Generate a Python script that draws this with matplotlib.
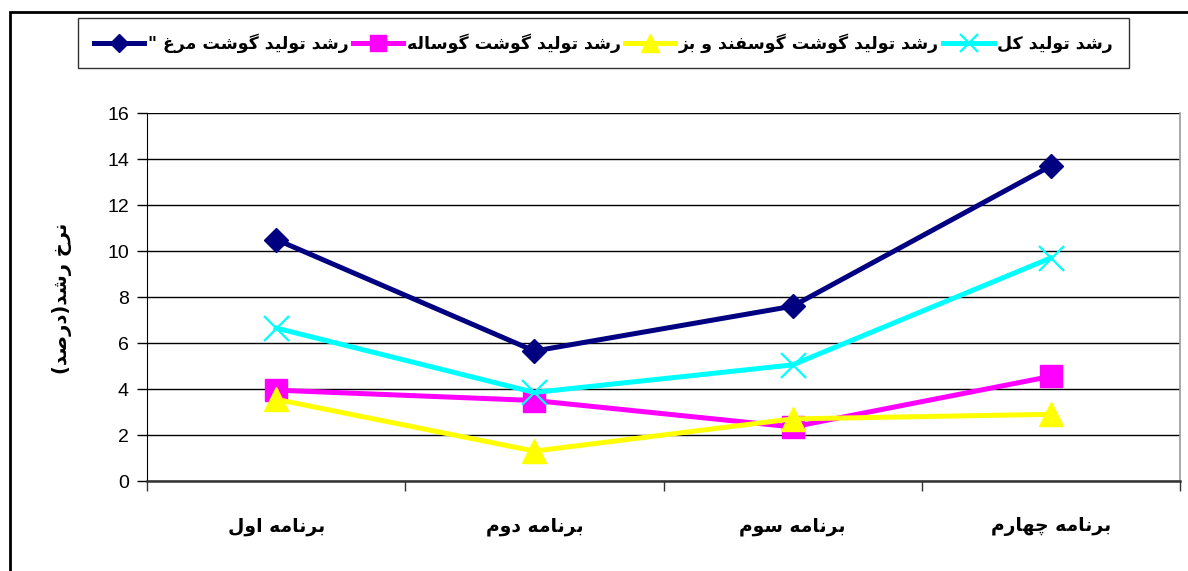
import matplotlib
matplotlib.use("Agg")
import matplotlib.pyplot as plt
from matplotlib.patches import Rectangle
from matplotlib.ticker import FixedLocator

# ---------------- data ----------------
categories = ["برنامه اول", "برنامه دوم", "برنامه سوم", "برنامه چهارم"]
series_names = [
    'رشد تولید گوشت مرغ "',
    "رشد تولید گوشت گوساله",
    "رشد تولید گوشت گوسفند و بز",
    "رشد تولید کل",
]
chicken = [10.5, 5.65, 7.6, 13.7]
veal = [3.95, 3.5, 2.35, 4.55]
sheep_goat = [3.55, 1.3, 2.7, 2.9]
total = [6.65, 3.85, 5.05, 9.7]
y_label = "نرخ رشد(درصد)"
y_ticks = [0, 2, 4, 6, 8, 10, 12, 14, 16]

# ---------------- simple Arabic/Persian shaping ----------------
DUAL = {
    "ب": ("\uFE8F", "\uFE90", "\uFE91", "\uFE92"),
    "ت": ("\uFE95", "\uFE96", "\uFE97", "\uFE98"),
    "خ": ("\uFEA5", "\uFEA6", "\uFEA7", "\uFEA8"),
    "س": ("\uFEB1", "\uFEB2", "\uFEB3", "\uFEB4"),
    "ش": ("\uFEB5", "\uFEB6", "\uFEB7", "\uFEB8"),
    "ص": ("\uFEB9", "\uFEBA", "\uFEBB", "\uFEBC"),
    "غ": ("\uFECD", "\uFECE", "\uFECF", "\uFED0"),
    "ف": ("\uFED1", "\uFED2", "\uFED3", "\uFED4"),
    "ل": ("\uFEDD", "\uFEDE", "\uFEDF", "\uFEE0"),
    "م": ("\uFEE1", "\uFEE2", "\uFEE3", "\uFEE4"),
    "ن": ("\uFEE5", "\uFEE6", "\uFEE7", "\uFEE8"),
    "ه": ("\uFEE9", "\uFEEA", "\uFEEB", "\uFEEC"),
    "ی": ("\uFBFC", "\uFBFD", "\uFBFE", "\uFBFF"),
    "ک": ("\uFB8E", "\uFB8F", "\uFB90", "\uFB91"),
    "گ": ("\uFB92", "\uFB93", "\uFB94", "\uFB95"),
    "چ": ("\uFB7A", "\uFB7B", "\uFB7C", "\uFB7D"),
}
RIGHT = {
    "ا": ("\uFE8D", "\uFE8E"),
    "د": ("\uFEA9", "\uFEAA"),
    "ر": ("\uFEAD", "\uFEAE"),
    "ز": ("\uFEAF", "\uFEB0"),
    "و": ("\uFEED", "\uFEEE"),
}
MIRROR = {"(": ")", ")": "("}


def shape(text):
    out = []
    n = len(text)
    for i, ch in enumerate(text):
        if ch in DUAL or ch in RIGHT:
            prev = text[i - 1] if i > 0 else ""
            nxt = text[i + 1] if i < n - 1 else ""
            jp = prev in DUAL
            jn = ch in DUAL and (nxt in DUAL or nxt in RIGHT)
            if ch in DUAL:
                iso, fin, ini, med = DUAL[ch]
                if jp and jn:
                    out.append(med)
                elif jp:
                    out.append(fin)
                elif jn:
                    out.append(ini)
                else:
                    out.append(iso)
            else:
                iso, fin = RIGHT[ch]
                out.append(fin if jp else iso)
        else:
            out.append(ch)
    return "".join(MIRROR.get(c, c) for c in reversed(out))


# ---------------- figure ----------------
fig = plt.figure(figsize=(11.88, 5.71), dpi=100)
ax = fig.add_axes([147 / 1188, 1 - 481 / 571, (1180 - 147) / 1188, (481 - 113) / 571])

x = list(range(len(categories)))
styles = [
    (chicken, "#000080", "D", 12.5, {}),
    (veal, "#FF00FF", "s", 16, {}),
    (sheep_goat, "#FFFF00", "^", 17, {}),
    (total, "#00FFFF", "x", 18, {"markeredgewidth": 1.6}),
]
handles = []
for (vals, col, mk, ms, extra), name in zip(styles, series_names):
    h, = ax.plot(x, vals, color=col, lw=3.6, marker=mk, markersize=ms,
                 markerfacecolor=col, markeredgecolor=col,
                 label=shape(name), solid_joinstyle="miter", zorder=3, **extra)
    handles.append(h)

ax.set_xlim(-0.5, len(categories) - 0.5)
ax.set_ylim(0, 16)
ax.set_yticks(y_ticks)
ax.set_yticklabels([str(v) for v in y_ticks], fontsize=14, family="Liberation Sans")
ax.yaxis.grid(True, color="black", lw=1.0)
ax.set_axisbelow(True)
ax.tick_params(axis="y", direction="out", length=7, width=1, pad=6)

ax.set_xticks(x)
ax.set_xticklabels([shape(c) for c in categories], fontsize=13.5,
                   fontweight="bold", family="DejaVu Sans")
ax.tick_params(axis="x", which="major", length=0, pad=26)
ax.xaxis.set_minor_locator(FixedLocator([i - 0.5 for i in range(len(categories) + 1)]))
ax.tick_params(axis="x", which="minor", direction="out", length=7, width=1, color="#333333")

ax.spines["top"].set_visible(False)
ax.spines["right"].set_color("#999999")
ax.spines["right"].set_linewidth(1.2)
ax.spines["left"].set_color("black")
ax.spines["bottom"].set_color("#333333")
ax.spines["bottom"].set_linewidth(1.8)

fig.text(62 / 1188, 1 - 298 / 571, shape(y_label), rotation=90, fontsize=14,
         fontweight="bold", ha="center", va="center", family="DejaVu Sans")

leg = fig.legend(handles=handles, loc="center", bbox_to_anchor=(0.508, 1 - 43 / 571),
                 ncol=4, frameon=True, fancybox=False, edgecolor="black",
                 prop={"size": 12.5, "weight": "bold", "family": "DejaVu Sans"},
                 handlelength=2.9, handletextpad=0.2, columnspacing=0.25,
                 borderpad=0.9, borderaxespad=0, markerscale=0.75)
leg.get_frame().set_linewidth(1.0)

# outer chart border
fig.patches.append(Rectangle((10 / 1188, -0.05), 1.2, 1 - 12 / 571 + 0.05,
                             transform=fig.transFigure, fill=False,
                             edgecolor="black", lw=2))

fig.savefig("out.png", dpi=100)
